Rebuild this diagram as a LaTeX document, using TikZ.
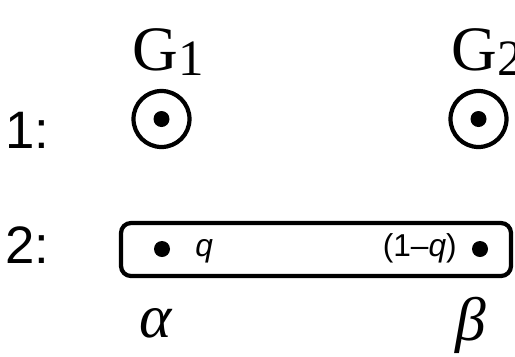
\documentclass[tikz,border=0pt]{standalone}
\usepackage{fontspec}
\setmainfont{Liberation Serif}
\setsansfont{Liberation Sans}
\begin{document}
\begin{tikzpicture}[line cap=round,line join=round]
  \tikzset{
    player/.style={circle,draw,line width=2.4pt,minimum size=1.12cm,inner sep=0pt},
    move/.style={circle,fill,minimum size=0.32cm,inner sep=0pt},
    rowlab/.style={font=\sffamily\fontsize{30}{34}\selectfont,anchor=base west,inner sep=0pt},
    prob/.style={font=\sffamily\fontsize{18}{21}\selectfont,anchor=base,inner sep=0pt},
    big/.style={font=\fontsize{36}{40}\selectfont,anchor=base,inner sep=0pt},
  }
  \useasboundingbox (0,0) rectangle (10.30,-7.12);
  % players
  \node[big,anchor=base west] (g1) at (2.64,-1.40) {G\raisebox{-3pt}{\fontsize{29}{32}\selectfont 1}};
  \node[big,anchor=base west] (g2) at (9.02,-1.40) {G\raisebox{-3pt}{\fontsize{29}{32}\selectfont 2}};
  % stage 1
  \node[rowlab] (r1) at (0.10,-2.96) {1:};
  \node[player] (c1) at (3.23,-2.38) {};
  \node[player] (c2) at (9.57,-2.38) {};
  \node[move] (m1) at (c1) {};
  \node[move] (m2) at (c2) {};
  % stage 2
  \node[rowlab] (r2) at (0.10,-5.26) {2:};
  \node[draw,rounded corners=0.2cm,line width=2.4pt,minimum width=7.80cm,
        minimum height=1.06cm,inner sep=0pt] (info) at (6.32,-4.99) {};
  \node[move] (ma) at (3.24,-4.98) {};
  \node[move] (mb) at (9.60,-4.98) {};
  \node[prob,anchor=base west] (pq) at (3.90,-5.12) {\itshape q};
  \node[prob,anchor=base east] (pr) at (9.14,-5.12) {(1–\textit{q})};
  \node[big,font=\itshape\fontsize{35}{40}\selectfont] (al) at (3.12,-6.74) {α};
  \node[big,font=\itshape\fontsize{35}{40}\selectfont] (be) at (9.42,-6.80) {β};
\end{tikzpicture}
\end{document}
